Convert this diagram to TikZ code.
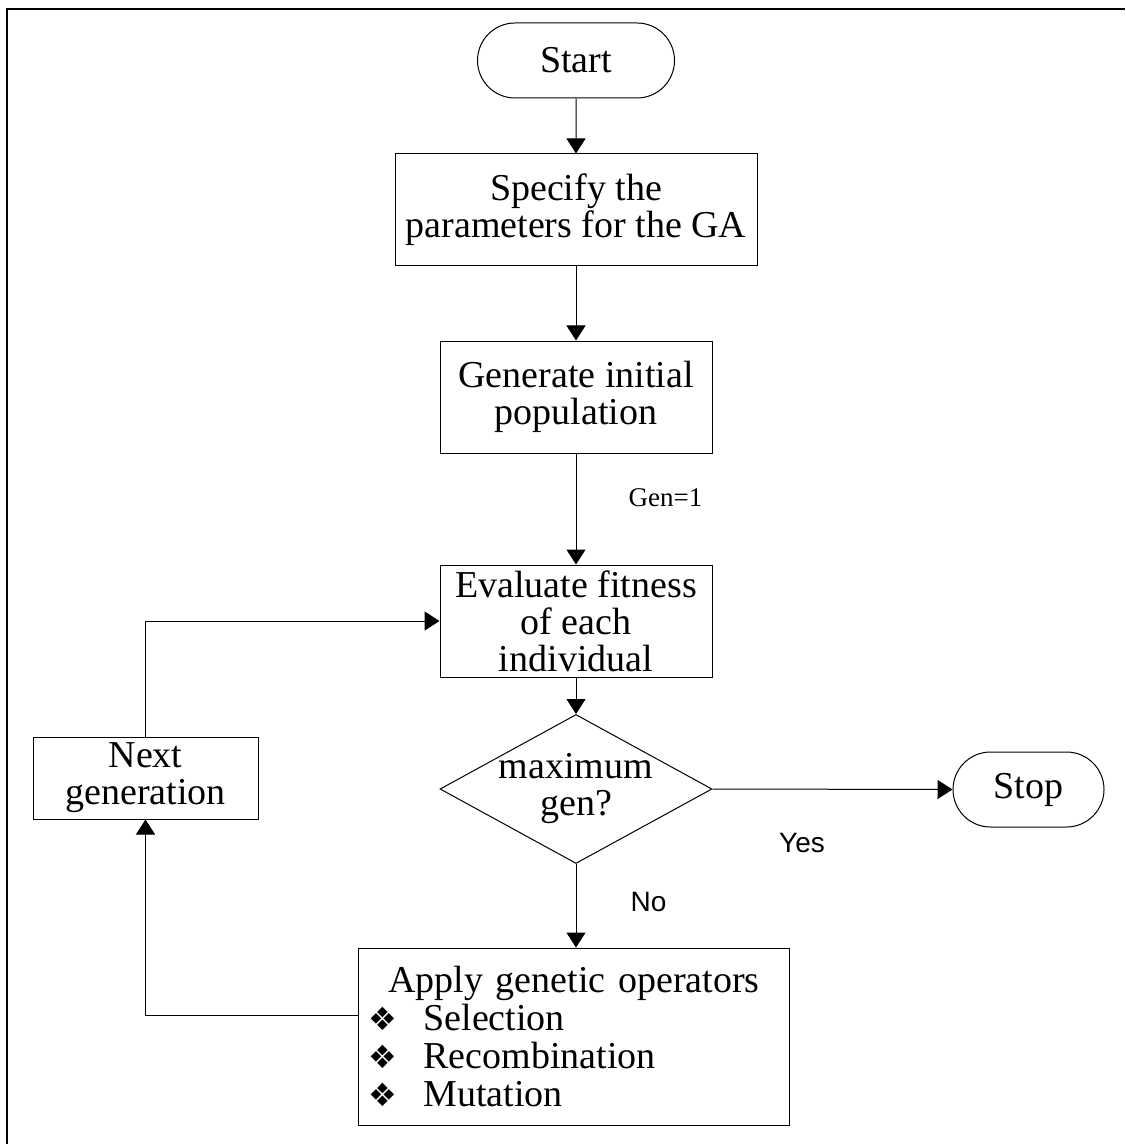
\documentclass[tikz,border=0pt]{standalone}
\usepackage{fontspec}
\setmainfont{Liberation Serif}
\newfontfamily\labelfont{Liberation Sans}
\newfontfamily\bulletfont{DejaVu Sans}
\usepackage{tikz}
\usetikzlibrary{positioning, arrows.meta, shapes.geometric, shapes.misc}

\newcommand{\opbullet}{\makebox[27.5pt][l]{\bulletfont\fontsize{16}{16}\selectfont ❖}}

\tikzset{
  flowbox/.style={draw, line width=0.5pt, align=center, inner sep=2pt,
                  font=\fontsize{19}{18.5}\selectfont},
  terminal/.style={flowbox, rounded rectangle, minimum width=102.5pt, minimum height=37.5pt},
  decision/.style={draw, line width=0.5pt, diamond, inner sep=0pt,
                   minimum width=136pt, minimum height=74.5pt},
  flowarrow/.style={line width=0.5pt, -{Triangle[length=7.5pt, width=9.5pt]}},
  edgelabel/.style={font=\labelfont\fontsize{14}{14}\selectfont}
}

\begin{document}
\begin{tikzpicture}[x=0.5pt, y=-0.5pt]
    \useasboundingbox (0,0) rectangle (1125,1144);
    \draw[line width=1.3pt] (7,1144) -- (7,9) -- (1125,9);

    % main column
    \node[terminal] (start) at (576,60.5) {Start};
    \node[flowbox, minimum width=181pt, minimum height=56pt] (params) at (576,210)
      {Specify the\\parameters for the GA};
    \node[flowbox, minimum width=136pt, minimum height=56pt] (init) at (576,397)
      {Generate initial\\population};
    \node[flowbox, minimum width=136pt, minimum height=56pt] (eval) at (576,621)
      {Evaluate fitness\\of each\\individual};
    \node[decision, label={[flowbox, draw=none]center:maximum\\gen?}] (maxgen) at (576,789) {};
    \node[terminal, minimum width=79.5pt] (stop) at (1028.5,789.5) {Stop};
    \node[flowbox, minimum width=112.5pt, minimum height=41pt] (nextgen) at (145.5,778)
      {Next\\generation};
    \node[flowbox, align=left, inner xsep=5pt, text width=205.5pt, minimum height=88.5pt,
          font=\fontsize{19}{19}\selectfont] (ops) at (574,1036.5)
      {\makebox[205.5pt]{Apply genetic operators}\\
       \opbullet Selection\\
       \opbullet Recombination\\
       \opbullet Mutation};

    % labels
    \node[font=\fontsize{13.5}{13.5}\selectfont] (gen1) at (665.5,498) {Gen=1};
    \node[edgelabel] (yes) at (802,843) {Yes};
    \node[edgelabel] (no) at (648.5,902) {No};

    % connectors
    \draw[flowarrow] (start) -- (params);
    \draw[flowarrow] (params) -- (init);
    \draw[flowarrow] (init) -- (eval);
    \draw[flowarrow] (eval) -- (maxgen);
    \draw[flowarrow] (maxgen.east) -- (stop.west);
    \draw[flowarrow] (maxgen.south) -- (maxgen.south |- ops.north);
    \draw[flowarrow] ([yshift=10.75pt]ops.west) -| (nextgen.south);
    \draw[flowarrow] (nextgen.north) |- (eval.west);
  \end{tikzpicture}
\end{document}
